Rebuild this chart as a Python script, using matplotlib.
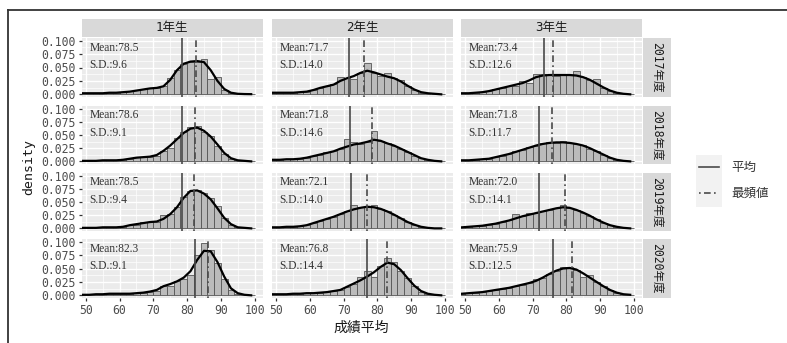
import numpy as np
import matplotlib.pyplot as plt
from matplotlib.lines import Line2D

# bin centres (binwidth 2) and read-off values
centers = np.arange(49, 100, 2)
grades = ['1年生', '2年生', '3年生']
years = ['2017年度', '2018年度', '2019年度', '2020年度']

means = [[78.5, 71.7, 73.4], [78.6, 71.8, 71.8], [78.5, 72.1, 72.0], [82.3, 76.8, 75.9]]
sds = [[9.6, 14.0, 12.6], [9.1, 14.6, 11.7], [9.4, 14.0, 14.1], [9.1, 14.4, 12.5]]
modes = [[82.5, 76.0, 76.0], [82.2, 78.3, 75.8], [82.0, 77.0, 79.5], [86.2, 83.0, 81.7]]

# density curves (per year, per grade), at the bin centres
dens_2017 = [
    [0.002, 0.002, 0.002, 0.002, 0.003, 0.003, 0.004, 0.005, 0.007, 0.009, 0.011, 0.012, 0.015,
     0.027, 0.045, 0.057, 0.061, 0.062, 0.060, 0.045, 0.025, 0.010, 0.003, 0.001, 0.0005, 0.0003],
    [0.003, 0.003, 0.003, 0.003, 0.004, 0.005, 0.008, 0.012, 0.015, 0.018, 0.025, 0.030, 0.034,
     0.040, 0.044, 0.041, 0.037, 0.033, 0.030, 0.024, 0.016, 0.009, 0.004, 0.002, 0.001, 0.0],
    [0.002, 0.002, 0.003, 0.004, 0.006, 0.009, 0.012, 0.015, 0.018, 0.021, 0.026, 0.032, 0.035,
     0.036, 0.036, 0.036, 0.036, 0.035, 0.032, 0.027, 0.020, 0.013, 0.007, 0.003, 0.001, 0.0],
]
dens_2018 = [
    [0.001, 0.001, 0.001, 0.002, 0.002, 0.002, 0.003, 0.005, 0.007, 0.008, 0.009, 0.012, 0.020,
     0.030, 0.042, 0.054, 0.062, 0.064, 0.058, 0.047, 0.032, 0.016, 0.006, 0.002, 0.001, 0.0],
    [0.003, 0.003, 0.004, 0.004, 0.005, 0.007, 0.010, 0.013, 0.016, 0.019, 0.024, 0.028, 0.032,
     0.034, 0.037, 0.041, 0.039, 0.034, 0.030, 0.024, 0.018, 0.012, 0.006, 0.003, 0.001, 0.0],
    [0.002, 0.002, 0.003, 0.004, 0.005, 0.008, 0.011, 0.014, 0.018, 0.022, 0.026, 0.030, 0.033,
     0.035, 0.036, 0.036, 0.035, 0.033, 0.030, 0.025, 0.019, 0.013, 0.007, 0.003, 0.001, 0.0],
]
dens_2019 = [
    [0.001, 0.001, 0.001, 0.002, 0.002, 0.002, 0.003, 0.006, 0.008, 0.010, 0.012, 0.013, 0.018,
     0.027, 0.040, 0.058, 0.071, 0.072, 0.066, 0.055, 0.038, 0.020, 0.008, 0.002, 0.001, 0.0],
    [0.002, 0.002, 0.003, 0.003, 0.004, 0.006, 0.010, 0.014, 0.018, 0.022, 0.027, 0.032, 0.036,
     0.039, 0.041, 0.040, 0.037, 0.032, 0.026, 0.019, 0.012, 0.007, 0.003, 0.001, 0.0, 0.0],
    [0.002, 0.003, 0.004, 0.005, 0.007, 0.009, 0.012, 0.015, 0.019, 0.023, 0.026, 0.029, 0.032,
     0.035, 0.038, 0.040, 0.039, 0.035, 0.030, 0.024, 0.017, 0.011, 0.006, 0.003, 0.001, 0.0],
]
dens_2020 = [
    [0.001, 0.001, 0.002, 0.002, 0.003, 0.003, 0.003, 0.003, 0.004, 0.005, 0.007, 0.010, 0.017,
     0.021, 0.026, 0.033, 0.045, 0.066, 0.083, 0.082, 0.062, 0.035, 0.013, 0.004, 0.001, 0.0],
    [0.002, 0.002, 0.002, 0.003, 0.003, 0.004, 0.004, 0.005, 0.006, 0.008, 0.010, 0.016, 0.022,
     0.028, 0.035, 0.043, 0.053, 0.061, 0.058, 0.047, 0.032, 0.018, 0.008, 0.003, 0.001, 0.0],
    [0.003, 0.004, 0.005, 0.006, 0.008, 0.010, 0.012, 0.014, 0.017, 0.020, 0.023, 0.027, 0.033,
     0.040, 0.046, 0.050, 0.051, 0.048, 0.041, 0.033, 0.025, 0.017, 0.010, 0.005, 0.002, 0.001],
]

# histogram bar heights (density scale)
hist_2017 = [
    [0.001, 0.002, 0.002, 0.002, 0.003, 0.003, 0.004, 0.006, 0.008, 0.010, 0.012, 0.012, 0.016,
     0.030, 0.045, 0.057, 0.060, 0.060, 0.066, 0.028, 0.033, 0.008, 0.002, 0.001, 0.0, 0.0],
    [0.002, 0.003, 0.003, 0.003, 0.004, 0.005, 0.008, 0.012, 0.016, 0.019, 0.032, 0.030, 0.028,
     0.040, 0.059, 0.040, 0.035, 0.040, 0.030, 0.026, 0.015, 0.008, 0.003, 0.001, 0.0, 0.0],
    [0.002, 0.002, 0.003, 0.004, 0.006, 0.009, 0.012, 0.015, 0.016, 0.024, 0.021, 0.038, 0.037,
     0.036, 0.034, 0.036, 0.036, 0.043, 0.033, 0.027, 0.028, 0.012, 0.006, 0.002, 0.0, 0.0],
]
hist_2018 = [
    [0.001, 0.001, 0.001, 0.002, 0.002, 0.002, 0.003, 0.005, 0.008, 0.008, 0.009, 0.011, 0.020,
     0.025, 0.045, 0.055, 0.065, 0.068, 0.055, 0.048, 0.030, 0.014, 0.005, 0.002, 0.0, 0.0],
    [0.003, 0.003, 0.004, 0.004, 0.005, 0.007, 0.010, 0.013, 0.017, 0.019, 0.024, 0.042, 0.037,
     0.033, 0.036, 0.058, 0.038, 0.034, 0.030, 0.024, 0.018, 0.011, 0.006, 0.002, 0.001, 0.0],
    [0.002, 0.002, 0.003, 0.004, 0.005, 0.008, 0.011, 0.014, 0.019, 0.021, 0.027, 0.030, 0.034,
     0.036, 0.035, 0.038, 0.035, 0.033, 0.031, 0.024, 0.020, 0.012, 0.007, 0.003, 0.001, 0.0],
]
hist_2019 = [
    [0.001, 0.001, 0.001, 0.002, 0.002, 0.002, 0.003, 0.007, 0.006, 0.012, 0.013, 0.012, 0.025,
     0.027, 0.040, 0.060, 0.070, 0.073, 0.068, 0.057, 0.042, 0.020, 0.006, 0.002, 0.001, 0.0],
    [0.002, 0.002, 0.003, 0.003, 0.004, 0.006, 0.010, 0.014, 0.018, 0.022, 0.027, 0.032, 0.045,
     0.040, 0.041, 0.044, 0.037, 0.032, 0.026, 0.019, 0.012, 0.007, 0.003, 0.001, 0.0, 0.0],
    [0.002, 0.003, 0.004, 0.005, 0.007, 0.009, 0.012, 0.015, 0.027, 0.023, 0.030, 0.029, 0.032,
     0.035, 0.038, 0.045, 0.039, 0.035, 0.030, 0.024, 0.017, 0.011, 0.006, 0.003, 0.001, 0.0],
]
hist_2020 = [
    [0.001, 0.001, 0.002, 0.002, 0.003, 0.003, 0.003, 0.003, 0.004, 0.005, 0.007, 0.008, 0.018,
     0.017, 0.027, 0.030, 0.038, 0.075, 0.097, 0.085, 0.060, 0.030, 0.010, 0.002, 0.0, 0.0],
    [0.002, 0.002, 0.002, 0.003, 0.003, 0.004, 0.004, 0.005, 0.007, 0.008, 0.010, 0.016, 0.022,
     0.034, 0.045, 0.035, 0.055, 0.070, 0.062, 0.045, 0.032, 0.018, 0.007, 0.003, 0.001, 0.0],
    [0.003, 0.004, 0.005, 0.006, 0.008, 0.010, 0.012, 0.014, 0.017, 0.020, 0.023, 0.030, 0.033,
     0.040, 0.045, 0.053, 0.052, 0.048, 0.035, 0.038, 0.025, 0.017, 0.010, 0.005, 0.002, 0.001],
]

dens = [dens_2017, dens_2018, dens_2019, dens_2020]
hists = [hist_2017, hist_2018, hist_2019, hist_2020]

W, H = 787, 343
fig = plt.figure(figsize=(W / 100, H / 100), dpi=100)
fig.patch.set_facecolor('white')

mono_cjk = ['DejaVu Sans Mono', 'Noto Sans CJK JP']
cjk = ['Noto Sans CJK JP', 'DejaVu Sans']


def px_axes(x0, y0, x1, y1):
    return fig.add_axes([x0 / W, 1 - y1 / H, (x1 - x0) / W, (y1 - y0) / H])


col_x = [(81.5, 263), (272, 453), (461, 642)]
row_y = [(38, 97), (106, 164), (173, 231), (239, 298)]

for r in range(4):
    for c in range(3):
        x0, x1 = col_x[c]
        y0, y1 = row_y[r]
        ax = px_axes(x0, y0, x1, y1)
        ax.set_facecolor('#EBEBEB')
        ax.set_xlim(48.7, 102.5)
        ax.set_ylim(-0.005, 0.105)
        ax.set_xticks([50, 60, 70, 80, 90, 100])
        ax.set_xticks([55, 65, 75, 85, 95], minor=True)
        ax.set_yticks([0, 0.025, 0.05, 0.075, 0.1])
        ax.set_yticks([0.0125, 0.0375, 0.0625, 0.0875], minor=True)
        ax.grid(which='major', color='white', lw=1.0)
        ax.grid(which='minor', color='white', lw=0.5)
        ax.set_axisbelow(True)
        for s in ax.spines.values():
            s.set_visible(False)
        ax.tick_params(which='minor', length=0)
        ax.tick_params(which='major', length=2.5, width=0.9, color='#333333',
                       labelsize=8.3, labelcolor='#4D4D4D', pad=1.5)
        if c == 0:
            ax.set_yticklabels(['0.000', '0.025', '0.050', '0.075', '0.100'],
                               family='DejaVu Sans Mono')
        else:
            ax.tick_params(axis='y', length=0, labelleft=False)
        if r == 3:
            ax.set_xticklabels(['50', '60', '70', '80', '90', '100'], family='DejaVu Sans Mono')
        else:
            ax.tick_params(axis='x', length=0, labelbottom=False)

        ax.bar(centers, hists[r][c], width=2, color='#BBBBBB', edgecolor='#555555', lw=0.6)
        ax.plot(centers, dens[r][c], color='black', lw=1.6)
        ax.axvline(means[r][c], color='#4A4A4A', lw=1.2)
        ax.axvline(modes[r][c], color='#4A4A4A', lw=1.2, ls=(0, (1, 2, 4, 2)))
        ax.text(51, 0.087, 'Mean:%.1f' % means[r][c], family='Liberation Serif',
                fontsize=8.3, color='#333333', va='center', ha='left')
        ax.text(51, 0.054, 'S.D.:%.1f' % sds[r][c], family='Liberation Serif',
                fontsize=8.3, color='#333333', va='center', ha='left')

# column strips
for c in range(3):
    x0, x1 = col_x[c]
    sa = px_axes(x0, 19, x1, 37)
    sa.set_facecolor('#D9D9D9')
    sa.set_xticks([]); sa.set_yticks([])
    for s in sa.spines.values():
        s.set_visible(False)
    sa.text(0.5, 0.5, grades[c], transform=sa.transAxes, ha='center', va='center',
            fontsize=9, color='#1A1A1A', family=mono_cjk)

# row strips
for r in range(4):
    y0, y1 = row_y[r]
    sa = px_axes(643, y0, 671, y1)
    sa.set_facecolor('#D9D9D9')
    sa.set_xticks([]); sa.set_yticks([])
    for s in sa.spines.values():
        s.set_visible(False)
    sa.text(0.5, 0.5, years[r], transform=sa.transAxes, ha='center', va='center',
            rotation=-90, fontsize=8.3, color='#1A1A1A', family=mono_cjk)

# axis titles
fig.text(29 / W, 1 - 167 / H, 'density', rotation=90, ha='center', va='center',
         fontsize=9.5, color='#1A1A1A', family='DejaVu Sans Mono')
fig.text(361 / W, 1 - 328 / H, '成績平均', ha='center', va='center',
         fontsize=10, color='#1A1A1A', family=cjk)

# legend
la = px_axes(696, 155, 722, 207)
la.set_facecolor('#F2F2F2')
la.set_xlim(0, 1); la.set_ylim(0, 1)
la.set_xticks([]); la.set_yticks([])
for s in la.spines.values():
    s.set_visible(False)
la.plot([0.12, 0.88], [0.76, 0.76], color='#4A4A4A', lw=1.2)
la.plot([0.12, 0.88], [0.26, 0.26], color='#4A4A4A', lw=1.2, ls=(0, (1, 2, 4, 2)))
fig.text(731 / W, 1 - 167 / H, '平均', ha='left', va='center', fontsize=9,
         color='#333333', family=cjk)
fig.text(731 / W, 1 - 193 / H, '最頻値', ha='left', va='center', fontsize=9,
         color='#333333', family=cjk)

# outer frame lines (top and left)
fig.add_artist(Line2D([8 / W, 1], [1 - 10 / H, 1 - 10 / H], color='#333333', lw=1.3))
fig.add_artist(Line2D([8 / W, 8 / W], [0, 1 - 10 / H], color='#333333', lw=1.3))

fig.savefig('out.png', dpi=100)
